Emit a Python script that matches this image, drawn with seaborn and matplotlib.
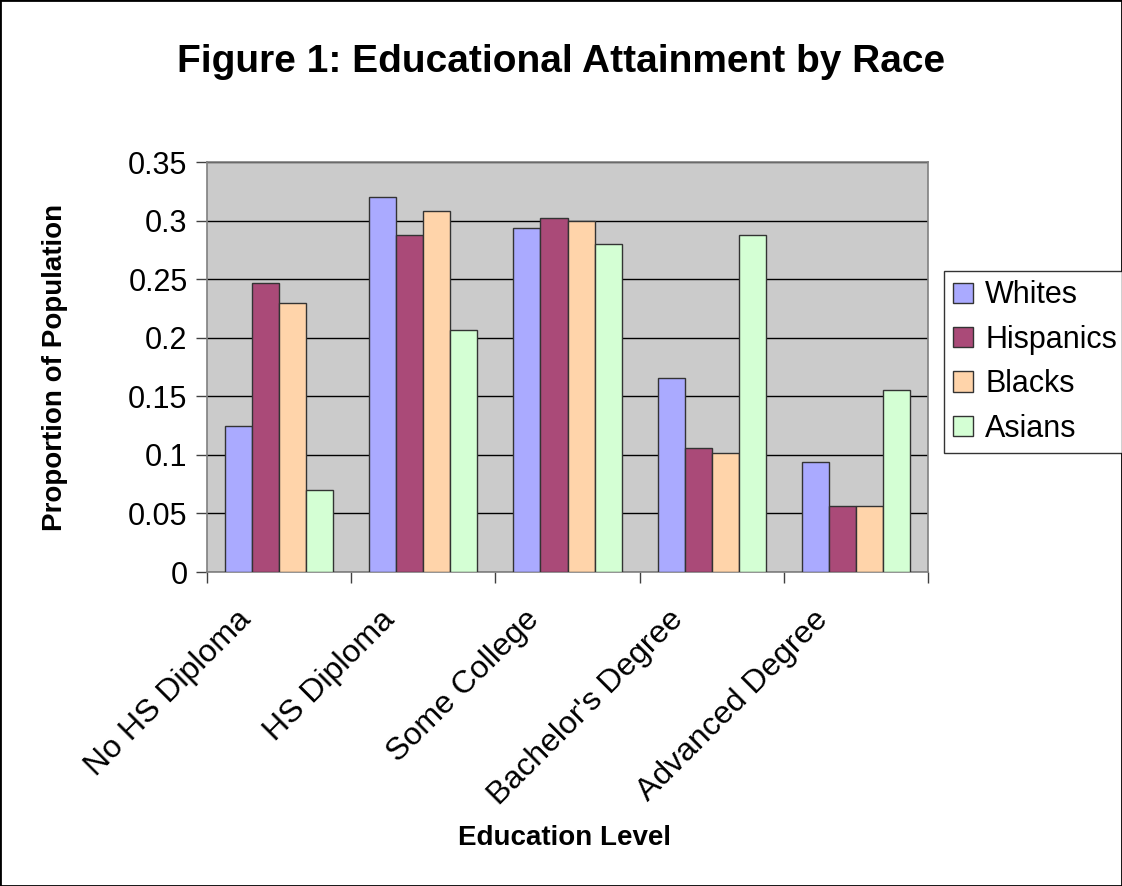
import matplotlib
matplotlib.use("Agg")
import matplotlib.pyplot as plt
import matplotlib.transforms as mtransforms
import seaborn as sns
import pandas as pd
from matplotlib.patches import Rectangle

levels = ["No HS Diploma", "HS Diploma", "Some College", "Bachelor's Degree", "Advanced Degree"]
races = ["Whites", "Hispanics", "Blacks", "Asians"]
whites = [0.125, 0.320, 0.294, 0.166, 0.094]
hispanics = [0.247, 0.288, 0.302, 0.106, 0.056]
blacks = [0.230, 0.308, 0.300, 0.102, 0.056]
asians = [0.070, 0.207, 0.280, 0.288, 0.155]
colors = ["#AAAAFF", "#AA4A78", "#FFD4AA", "#D4FFD4"]

rows = []
for race, vals in zip(races, [whites, hispanics, blacks, asians]):
    for lev, v in zip(levels, vals):
        rows.append({"level": lev, "race": race, "prop": v})
df = pd.DataFrame(rows)

sns.set_style("white")
plt.rcParams["font.family"] = ["Liberation Sans", "DejaVu Sans"]
plt.rcParams["text.color"] = "black"
plt.rcParams["xtick.color"] = "black"
plt.rcParams["ytick.color"] = "black"

fig = plt.figure(figsize=(11.22, 8.86), dpi=100)
ax = fig.add_axes([207 / 1122, 1 - 572 / 886, (928 - 207) / 1122, (572 - 162) / 886])
ax.set_facecolor("#CBCBCB")

sns.barplot(data=df, x="level", y="prop", hue="race", order=levels, hue_order=races,
            palette=colors, saturation=1, width=0.75, gap=0, edgecolor="#333333",
            linewidth=1, ax=ax, zorder=3)

ax.set_ylim(0, 0.35)
ax.set_xlim(-0.5, 4.5)
ax.set_yticks([0, 0.05, 0.1, 0.15, 0.2, 0.25, 0.3, 0.35])
ax.set_yticklabels(["0", "0.05", "0.1", "0.15", "0.2", "0.25", "0.3", "0.35"])
ax.yaxis.grid(True, color="black", linewidth=1, zorder=1)
ax.set_axisbelow(True)
for s in ax.spines.values():
    s.set_color("#808080")
    s.set_linewidth(1.2)

ax.tick_params(axis="y", which="major", direction="out", length=8, width=1, color="#404040",
               labelsize=22, labelcolor="black", pad=6, left=True)
ax.set_xticks(range(5))
ax.set_xticks([-0.5, 0.5, 1.5, 2.5, 3.5, 4.5], minor=True)
ax.tick_params(axis="x", which="major", length=0, labelsize=23, labelcolor="black", pad=0)
ax.tick_params(axis="x", which="minor", direction="out", length=8, width=1, color="#404040", bottom=True)
# baseline end of each label sits a bit left of and below the category centre
shift = mtransforms.ScaledTranslation(-0.27, -0.49, fig.dpi_scale_trans)
for lab in ax.get_xticklabels():
    lab.set_rotation(45)
    lab.set_ha("right")
    lab.set_va("baseline")
    lab.set_rotation_mode("anchor")
    lab.set_transform(lab.get_transform() + shift)

ax.set_xlabel("")
ax.set_ylabel("")
fig.text(565 / 1122, 1 - 838 / 886, "Education Level", ha="center", va="center",
         fontsize=20, fontweight="bold")
fig.text(55 / 1122, 1 - 367 / 886, "Proportion of Population", ha="center", va="center",
         rotation=90, fontsize=20, fontweight="bold")
fig.text(561 / 1122, 1 - 62 / 886, "Figure 1: Educational Attainment by Race", ha="center",
         va="center", fontsize=28, fontweight="bold")

handles, labels = ax.get_legend_handles_labels()
ax.get_legend().remove()
leg = fig.legend(handles, labels, loc="center left",
                 bbox_to_anchor=(944 / 1122, 1 - 362 / 886),
                 fontsize=22, frameon=True, fancybox=False, handlelength=0.65, handleheight=0.65,
                 handletextpad=0.4, labelspacing=0.47, borderpad=0.3, borderaxespad=0)
leg.get_frame().set_edgecolor("black")
leg.get_frame().set_linewidth(1)

fig.patches.append(Rectangle((0, 0), 1, 1, transform=fig.transFigure, fill=False,
                             edgecolor="black", linewidth=2))

fig.savefig("out.png", dpi=100)
